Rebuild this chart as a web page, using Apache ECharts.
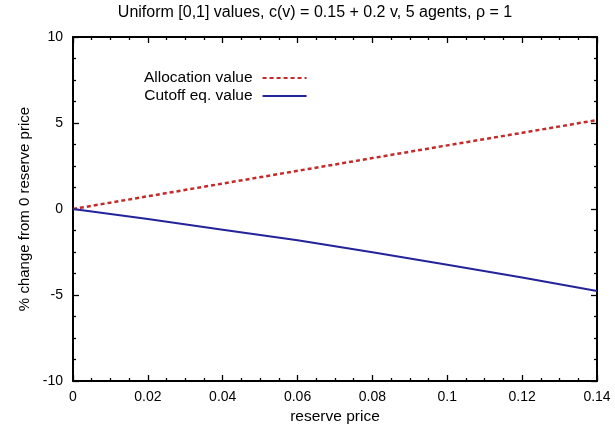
<!DOCTYPE html>
<html><head><meta charset="utf-8">
<script src="https://cdn.jsdelivr.net/npm/echarts@6/dist/echarts.min.js"></script>
<style>html,body{margin:0;padding:0;background:#fff}#c{width:615px;height:432px}</style>
</head><body><div id="c"></div>
<script>
const reservePrices = [0, 0.02, 0.04, 0.06, 0.08, 0.10, 0.12, 0.14];
const allocationValue = [0, 0.74, 1.48, 2.22, 2.96, 3.70, 4.43, 5.17];
const cutoffEqValue = [0, -0.58, -1.20, -1.82, -2.52, -3.24, -3.98, -4.77];
const seriesNames = ['Allocation value', 'Cutoff eq. value'];
const titleText = 'Uniform [0,1] values, c(v) = 0.15 + 0.2 v, 5 agents, \u03c1 = 1';

const font = 'Liberation Sans, Arial, Helvetica, sans-serif';
const pairs = (xs, ys) => xs.map((x, i) => [x, ys[i]]);
const common = {
  axisLine: {show: true, onZero: false, lineStyle: {color: '#000', width: 2}},
  axisTick: {show: true, inside: true, length: 6, lineStyle: {color: '#000', width: 1.3}},
  minorTick: {show: true, splitNumber: 4, length: 3, lineStyle: {color: '#000', width: 1.3}},
  splitLine: {show: false}
};
const xBase = {type: 'value', min: 0, max: 0.14, interval: 0.02};
const yBase = {type: 'value', min: -10, max: 10, interval: 5};
const chart = echarts.init(document.getElementById('c'));
chart.setOption({
  animation: false,
  textStyle: {fontFamily: font},
  title: {text: titleText, left: 310, top: 0, textAlign: 'center',
    textStyle: {fontFamily: font, fontSize: 16, fontWeight: 'normal', color: '#000'}},
  grid: {left: 73, right: 18, top: 37, bottom: 51},
  legend: {orient: 'vertical', align: 'right', left: 139, top: 65, itemWidth: 44, itemHeight: 14, itemGap: 2,
    itemStyle: {opacity: 0},
    textStyle: {fontFamily: font, fontSize: 15.5, color: '#000', padding: [0, 5, 0, 0]}, data: seriesNames},
  xAxis: [
    Object.assign({}, xBase, common, {position: 'bottom', name: 'reserve price', nameLocation: 'middle', nameGap: 18,
      nameTextStyle: {fontFamily: font, fontSize: 15.5, color: '#000'},
      axisLabel: {margin: 9, fontFamily: font, fontSize: 14, color: '#000', formatter: v => String(+v.toFixed(2))}}),
    Object.assign({}, xBase, common, {position: 'top', axisLabel: {show: false}})
  ],
  yAxis: [
    Object.assign({}, yBase, common, {position: 'left', name: '% change from 0 reserve price', nameLocation: 'middle', nameGap: 41,
      nameTextStyle: {fontFamily: font, fontSize: 15, color: '#000'},
      axisLabel: {margin: 10, fontFamily: font, fontSize: 14, color: '#000'}}),
    Object.assign({}, yBase, common, {position: 'right', axisLabel: {show: false}})
  ],
  series: [
    {name: seriesNames[0], type: 'line', showSymbol: false, symbol: 'none', data: pairs(reservePrices, allocationValue),
      color: '#c42a2a', lineStyle: {color: '#c42a2a', width: 2.5, type: [4, 3]}},
    {name: seriesNames[1], type: 'line', showSymbol: false, symbol: 'none', data: pairs(reservePrices, cutoffEqValue),
      color: '#23239a', lineStyle: {color: '#23239a', width: 2}}
  ]
});
</script></body></html>
